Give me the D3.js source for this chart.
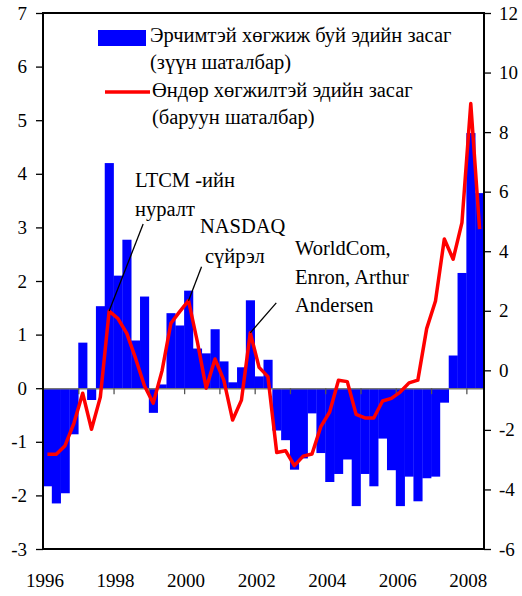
<!DOCTYPE html>
<html>
<head>
<meta charset="utf-8">
<script src="https://cdn.jsdelivr.net/npm/d3@7"></script>
<style>
  body { margin: 0; background: #fff; }
  svg text { font-family: "Liberation Serif", "DejaVu Serif", serif; fill: #000; }
</style>
</head>
<body>
<div id="chart"></div>
<script>
// Quarterly categories 1996Q1 - 2008Q2
var years = d3.range(1996, 2009);
var quarters = [];
years.forEach(function(y) {
    [1, 2, 3, 4].forEach(function(q) {
        if (y < 2008 || q <= 2) quarters.push(y + "Q" + q);
    });
});

// Emerging economies (left axis, bars)
var emerging = [-1.83, -2.15, -1.96, -0.86, 0.85, -0.22, 1.53, 4.2, 2.1, 2.77,
    0.89, 1.71, -0.46, 0.07, 1.4, 1.17, 1.82, 0.74, 0.65, 1.1,
    0.5, 0.11, 0.39, 1.64, 0.22, 0.53, -0.79, -0.97, -1.52, -1.31,
    -0.47, -1.21, -1.75, -1.6, -1.33, -2.2, -1.6, -1.83, -0.94, -1.53,
    -2.2, -1.65, -2.11, -1.68, -1.65, -0.27, 0.61, 2.15, 4.76, 3.64];

// Advanced economies (right axis, line)
var advanced = [-2.82, -2.82, -2.53, -1.78, -0.77, -1.98, -0.9, 1.99, 1.74, 1.24,
    0.4, -0.52, -1.1, -0.01, 1.58, 1.97, 2.34, 0.96, -0.6, 0.38,
    -0.33, -1.67, -1.0, 1.26, 0.1, -0.21, -2.76, -2.7, -3.2, -2.88,
    -2.81, -1.89, -1.4, -0.33, -0.38, -1.48, -1.6, -1.6, -1.03, -0.94,
    -0.73, -0.42, -0.33, 1.4, 2.33, 4.41, 3.73, 4.96, 8.96, 4.74];

var xLabels = [1996, 1998, 2000, 2002, 2004, 2006, 2008];
var leftTicks = d3.range(-3, 8);
var rightTicks = d3.range(-6, 13, 2);

var legendLabels = [
    ["Эрчимтэй хөгжиж буй эдийн засаг", "(зүүн шаталбар)"],
    ["Өндөр хөгжилтэй эдийн засаг", "(баруун шаталбар)"]
];

// event notes: quarter index they point at, text lines
var events = [
    { i: 7, lines: ["LTCM -ийн", "нуралт"] },
    { i: 16, lines: ["NASDAQ", "сүйрэл"] },
    { i: 23, lines: ["WorldCom,", "Enron, Arthur", "Andersen"] }
];

var w = 522, h = 596;
var pL = 43, pR = 484, pT = 13, pB = 549;
var noteSize = "20.5px";

var svg = d3.select("#chart").append("svg")
    .attr("width", w)
    .attr("height", h);

var x = d3.scaleLinear().domain([0, quarters.length]).range([pL, pR]);
var yL = d3.scaleLinear().domain([-3, 7]).range([pB, pT]);
var yR = d3.scaleLinear().domain([-6, 12]).range([pB, pT]);
var qw = x(1) - x(0);

// bars
svg.selectAll("rect.bar")
    .data(emerging)
    .enter()
    .append("rect")
    .attr("class", "bar")
    .attr("x", function(d, i) { return x(i); })
    .attr("width", qw + 0.3)
    .attr("y", function(d) { return d > 0 ? yL(d) : yL(0); })
    .attr("height", function(d) { return Math.abs(yL(d) - yL(0)); })
    .attr("fill", "#0000ff");

// zero line with year ticks
var zeroAxis = svg.append("g")
    .attr("transform", "translate(0," + yL(0) + ")")
    .call(d3.axisBottom(x)
        .tickValues(d3.range(4, quarters.length, 4))
        .tickSize(6)
        .tickSizeOuter(0)
        .tickFormat(""));
zeroAxis.select(".domain").attr("stroke", "#777").attr("stroke-width", 1.5);
zeroAxis.selectAll(".tick line").attr("stroke", "#555").attr("stroke-width", 1.3);

// line
var line = d3.line()
    .x(function(d, i) { return x(i + 0.5); })
    .y(function(d) { return yR(d); });

svg.append("path")
    .datum(advanced)
    .attr("d", line)
    .attr("fill", "none")
    .attr("stroke", "#ff0000")
    .attr("stroke-width", 3.5)
    .attr("stroke-linejoin", "round");

// frame
svg.append("rect")
    .attr("x", pL).attr("y", pT)
    .attr("width", pR - pL).attr("height", pB - pT)
    .attr("fill", "none")
    .attr("stroke", "#000")
    .attr("stroke-width", 2);

// left axis
var gL = svg.append("g")
    .attr("transform", "translate(" + pL + ",0)")
    .call(d3.axisLeft(yL).tickValues(leftTicks).tickSize(7).tickPadding(9)
        .tickFormat(function(d) { return String(d); }));
gL.select(".domain").remove();
gL.selectAll(".tick line").attr("stroke", "#000").attr("stroke-width", 1.3);
gL.selectAll("text").style("font-size", "19px").attr("fill", "#000")
    .style("font-family", "'Liberation Serif', serif");

// right axis
var gR = svg.append("g")
    .attr("transform", "translate(" + pR + ",0)")
    .call(d3.axisRight(yR).tickValues(rightTicks).tickSize(7).tickPadding(8)
        .tickFormat(function(d) { return String(d); }));
gR.select(".domain").remove();
gR.selectAll(".tick line").attr("stroke", "#000").attr("stroke-width", 1.3);
gR.selectAll("text").style("font-size", "19px").attr("fill", "#000")
    .style("font-family", "'Liberation Serif', serif");

// year labels
svg.selectAll("text.year")
    .data(xLabels)
    .enter()
    .append("text")
    .attr("class", "year")
    .attr("x", function(d) { return x((d - 1996) * 4) + 2; })
    .attr("y", 587)
    .attr("text-anchor", "middle")
    .style("font-size", "19px")
    .text(function(d) { return d; });

// legend
var lg = svg.append("g");
lg.append("rect")
    .attr("x", 98).attr("y", 30)
    .attr("width", 48).attr("height", 16)
    .attr("fill", "#0000ff");
lg.append("line")
    .attr("x1", 105).attr("x2", 150)
    .attr("y1", 92).attr("y2", 92)
    .attr("stroke", "#ff0000").attr("stroke-width", 3.5);
legendLabels.forEach(function(lines, k) {
    lines.forEach(function(t, j) {
        lg.append("text")
            .attr("x", k === 0 ? 150 : 152)
            .attr("y", 42 + k * 55 + j * 27)
            .style("font-size", noteSize)
            .text(t);
    });
});

// event notes
var notePos = [
    { tx: 135, ty: 187, dx: 34, dy: -87 },
    { tx: 200, ty: 233, dx: 13, dy: -34 },
    { tx: 295, ty: 255, dx: 26, dy: -30 }
];
events.forEach(function(e, k) {
    var p = notePos[k];
    var px = x(e.i + 0.5), py = yR(advanced[e.i]);
    svg.append("line")
        .attr("x1", px).attr("y1", py)
        .attr("x2", px + p.dx).attr("y2", py + p.dy)
        .attr("stroke", "#000").attr("stroke-width", 1.3);
    e.lines.forEach(function(t, j) {
        svg.append("text")
            .attr("x", k === 1 && j === 1 ? p.tx + 5 : p.tx)
            .attr("y", p.ty + j * (k === 1 ? 30 : 28.5))
            .style("font-size", noteSize)
            .text(t);
    });
});
</script>
</body>
</html>
